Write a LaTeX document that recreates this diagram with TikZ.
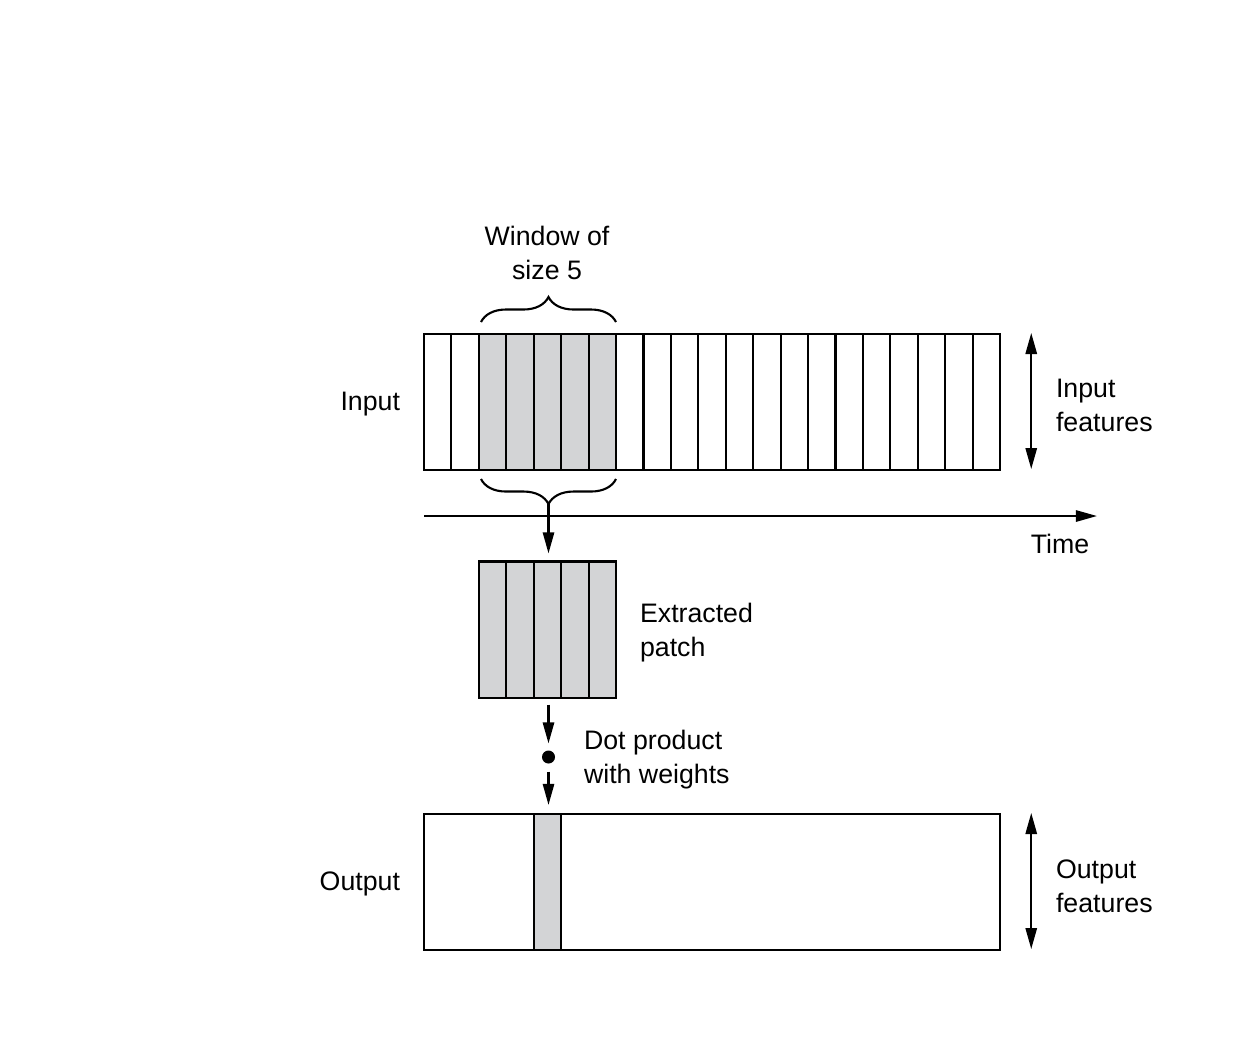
\documentclass[tikz,border=0pt]{standalone}
\usepackage{fontspec}
\setmainfont{Liberation Sans}
\usetikzlibrary{arrows.meta,positioning,decorations.pathreplacing}
\definecolor{patchgray}{RGB}{211,212,214}
\tikzset{
  box/.style={draw,line width=0.6pt,minimum width=5.76cm,minimum height=1.36cm,inner sep=0},
  lbl/.style={inner sep=0,align=left},
  wbrace/.style={decorate,decoration={brace,amplitude=0.25cm},line width=0.6pt},
}

\begin{document}
\begin{tikzpicture}[>={Triangle[length=6pt,width=3.2pt]},x=0.01cm,y=-0.01cm,
  line width=0.6pt,font=\fontsize{7.6}{9.7}\selectfont]
\useasboundingbox (0,0) rectangle (1242,1056);
% input sequence
\fill[patchgray] (478.9,334) rectangle (616,470);
\node[box] (input) at (712,402) {};
\foreach \i in {1,...,20}
    \draw (424+\i*27.43,334) -- (424+\i*27.43,470);
\node[lbl,anchor=east] (inlab) at (401,404) {Input};
\draw[<->] ([xshift=0.3cm]input.north east) -- ([xshift=0.3cm,yshift=0.02cm]input.south east);
\node[lbl,anchor=west] (infeat) at (1055,405) {Input\\features};
% window
\draw[wbrace] (481,322) -- (616,322);
\node[align=center,inner sep=0] (win) at (547,253) {Window of\\size 5};
\draw[wbrace] (616,479) -- (481,479);
\coordinate (btip) at (548.5,504);
% time axis
\coordinate (t0) at (424,516);
\coordinate (t1) at (1097,516);
\draw[->] (t0) -- (t1);
\node[lbl] (time) at (1060,544) {Time};
% extracted patch
\node[box,fill=patchgray,minimum width=1.371cm] (patch) at (547.5,629.5) {};
\foreach \i in {1,...,4}
    \draw (479+\i*27.43,562) -- (479+\i*27.43,697);
\node[lbl,anchor=west] (patchlab) at (639,633) {Extracted\\patch};
\draw[->,shorten >=0.07cm] (btip) -- (btip |- patch.north);
% dot product
\node[circle,fill,inner sep=0,minimum size=0.13cm] (dot) at (548.5,757) {};
\draw[->,shorten <=0.06cm,shorten >=0.06cm] (dot |- patch.south) -- (dot);
\node[lbl,anchor=west] (dotlab) at (583,760) {Dot product\\with weights};
% output
\fill[patchgray] (534,814) rectangle (561.4,950);
\node[box] (output) at (712,882) {};
\draw (534,814) -- (534,950) (561.4,814) -- (561.4,950);
\draw[->,shorten <=0.07cm,shorten >=0.08cm] (dot) -- (dot |- output.north);
\node[lbl,anchor=east] (outlab) at (401,884) {Output};
\draw[<->] ([xshift=0.3cm]output.north east) -- ([xshift=0.3cm,yshift=0.02cm]output.south east);
\node[lbl,anchor=west] (outfeat) at (1055,886) {Output\\features};
\end{tikzpicture}
\end{document}
